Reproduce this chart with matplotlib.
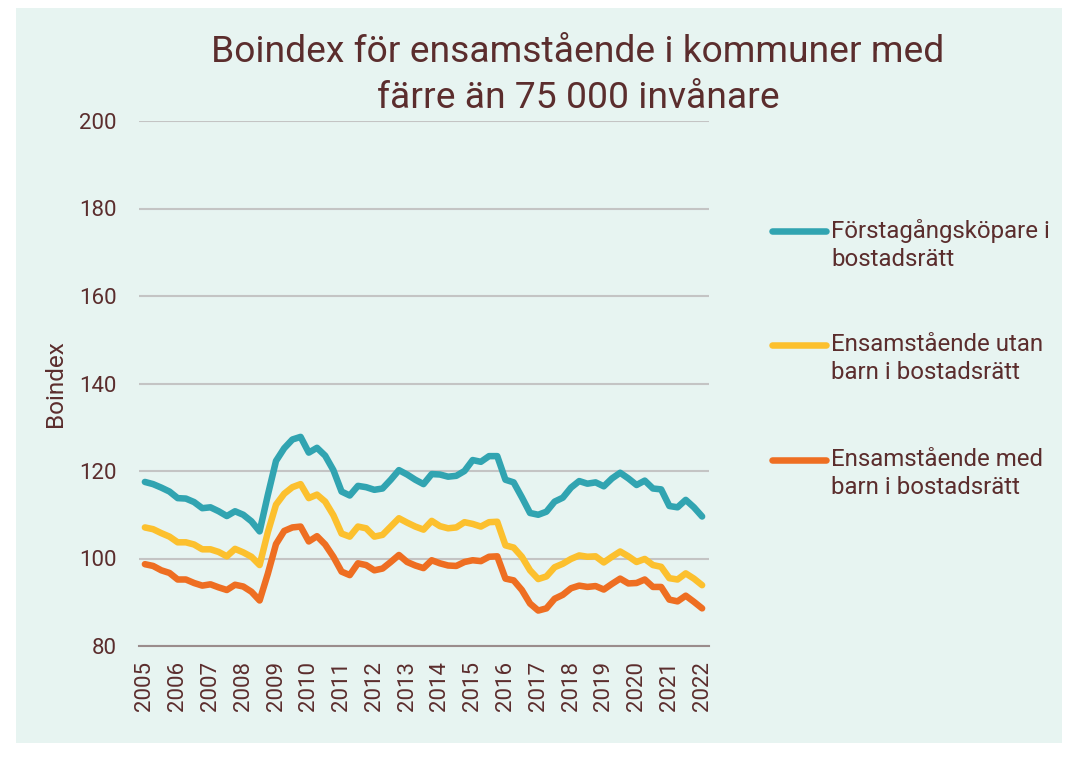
import numpy as np
import matplotlib
matplotlib.use("Agg")
import matplotlib.pyplot as plt
from matplotlib.patches import Rectangle
from matplotlib.lines import Line2D

plt.rcParams['font.family'] = ['Roboto', 'DejaVu Sans']

# kvartalsdata 2005 Q1 - 2022 Q1
forstagang = [117.5, 117.0, 116.2, 115.3, 113.8, 113.7, 112.9, 111.5, 111.7, 110.8,
              109.7, 110.8, 110.0, 108.5, 106.2, 114.5, 122.3, 125.2, 127.2, 127.8,
              124.2, 125.3, 123.5, 120.2, 115.3, 114.4, 116.6, 116.3, 115.7, 116.0,
              118.0, 120.2, 119.2, 118.0, 117.0, 119.3, 119.2, 118.7, 118.9, 120.0,
              122.5, 122.1, 123.4, 123.4, 118.0, 117.4, 114.0, 110.4, 110.0, 110.7,
              113.0, 113.9, 116.2, 117.7, 117.1, 117.4, 116.5, 118.3, 119.6, 118.3,
              116.8, 117.8, 116.0, 115.8, 112.0, 111.7, 113.4, 111.7, 109.6]
utan_barn = [107.1, 106.7, 105.8, 105.0, 103.7, 103.7, 103.2, 102.1, 102.1, 101.5,
             100.5, 102.2, 101.4, 100.4, 98.5, 106.0, 112.3, 114.8, 116.3, 117.0,
             113.8, 114.6, 113.0, 109.9, 105.7, 105.0, 107.3, 106.9, 105.0, 105.4,
             107.3, 109.2, 108.2, 107.3, 106.6, 108.6, 107.4, 106.9, 107.1, 108.3,
             107.9, 107.3, 108.3, 108.4, 103.0, 102.5, 100.4, 97.3, 95.3, 95.9,
             98.0, 98.8, 99.9, 100.7, 100.4, 100.5, 99.1, 100.4, 101.6, 100.5,
             99.2, 99.9, 98.5, 98.1, 95.5, 95.2, 96.6, 95.4, 93.9]
med_barn = [98.7, 98.3, 97.3, 96.7, 95.2, 95.2, 94.4, 93.8, 94.1, 93.4,
            92.8, 94.0, 93.6, 92.4, 90.4, 96.5, 103.3, 106.3, 107.1, 107.3,
            103.9, 105.1, 103.2, 100.4, 97.0, 96.2, 98.9, 98.5, 97.3, 97.7,
            99.2, 100.8, 99.2, 98.4, 97.8, 99.6, 98.9, 98.4, 98.3, 99.2,
            99.6, 99.4, 100.4, 100.5, 95.4, 95.0, 92.8, 89.7, 88.1, 88.6,
            90.8, 91.7, 93.2, 93.8, 93.5, 93.7, 92.9, 94.2, 95.4, 94.3,
            94.4, 95.2, 93.5, 93.5, 90.6, 90.2, 91.5, 90.1, 88.6]

years = list(range(2005, 2023))
labels = ["Förstagångsköpare i\nbostadsrätt",
          "Ensamstående utan\nbarn i bostadsrätt",
          "Ensamstående med\nbarn i bostadsrätt"]
colors = ["#31A4B1", "#FCC02E", "#EE6E22"]
txt = "#5B2D2D"

x = 2005 + np.arange(len(forstagang)) / 4

fig = plt.figure(figsize=(10.74, 7.57), dpi=100, facecolor="white")
W, H = 1074, 757
fig.add_artist(Rectangle((16 / W, 1 - 743 / H), (1062 - 16) / W, (743 - 8) / H,
                         transform=fig.transFigure, facecolor="#E7F4F1",
                         edgecolor="none", zorder=0))

ax = fig.add_axes([139 / W, 1 - 646 / H, (709 - 139) / W, (646 - 121) / H])
ax.set_facecolor("none")

for serie, c in zip([forstagang, utan_barn, med_barn], colors):
    ax.plot(x, serie, color=c, lw=4.7, solid_joinstyle="round", solid_capstyle="round", zorder=3)

ax.set_ylim(80, 200)
ax.set_yticks(range(80, 201, 20))
ax.set_xlim(2005 - 0.18, 2022 + 0.21)
ax.set_xticks(years)
ax.set_xticklabels([str(y) for y in years], rotation=90)
ax.grid(axis="y", color="#C4C4C4", lw=1.5)
ax.set_axisbelow(True)
for s in ["top", "right", "left"]:
    ax.spines[s].set_visible(False)
ax.spines["bottom"].set_color("#9A8C8C")
ax.spines["bottom"].set_linewidth(1.5)
ax.spines["bottom"].set_zorder(2)
ax.tick_params(axis="y", length=0, pad=16, labelsize=16, labelcolor=txt)
ax.tick_params(axis="x", length=0, pad=11, labelsize=16, labelcolor=txt)
ax.set_ylabel("Boindex", fontsize=17.5, color=txt, labelpad=9)

fig.text(578 / W, 1 - 75 / H, "Boindex för ensamstående i kommuner med\nfärre än 75 000 invånare",
         ha="center", va="center", fontsize=26.8, color=txt, linespacing=1.36)

# legend
for i, (lab, c) in enumerate(zip(labels, colors)):
    yy = 1 - (231 + i * 114.5) / H
    fig.add_artist(Line2D([772 / W, 826 / W], [yy, yy], transform=fig.transFigure,
                          color=c, lw=4.7, solid_capstyle="round"))
    fig.text(831 / W, yy + 12 / H, lab, ha="left", va="top", fontsize=17.3,
             color=txt, linespacing=1.25)

fig.savefig("out.png", dpi=100, facecolor="white")
